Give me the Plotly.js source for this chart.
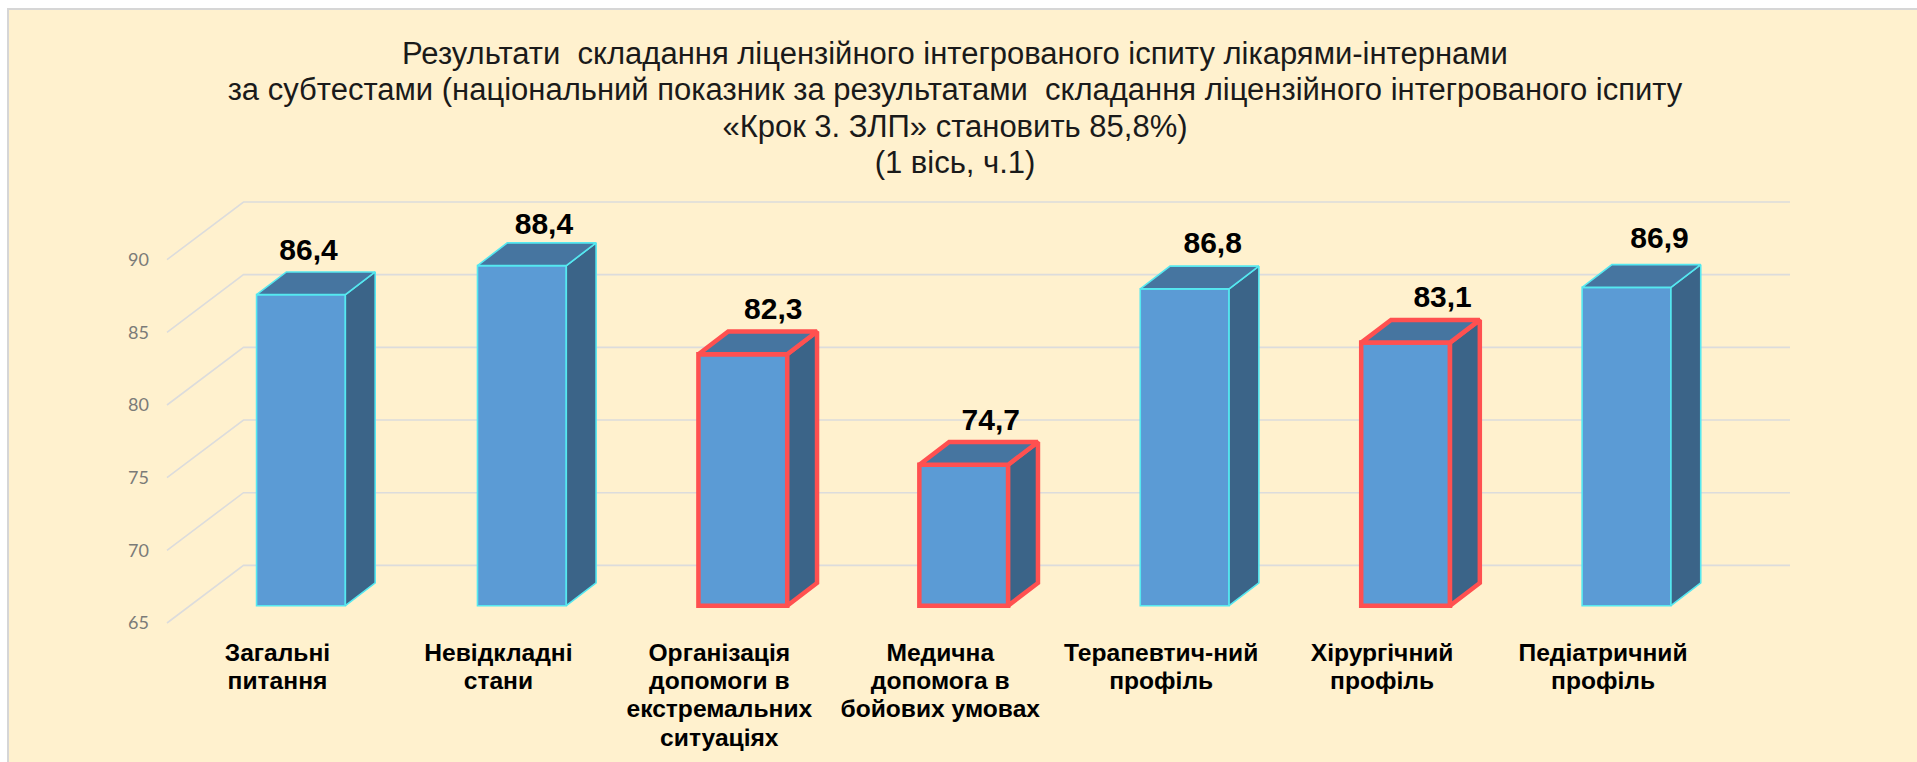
<!DOCTYPE html>
<html>
<head>
<meta charset="utf-8">
<script src="https://cdn.plot.ly/plotly-3.0.1.min.js"></script>
<style>
html,body{margin:0;padding:0;background:#fff;width:1917px;height:762px;overflow:hidden}
#bg{position:absolute;left:7px;top:8px;right:0;bottom:0;background:#FFF1CE;border-left:2px solid #D6D6D6;border-top:2px solid #D6D6D6}
#chart{position:absolute;left:0;top:0;width:1917px;height:762px}
</style>
</head>
<body>
<div id="bg"></div>
<div id="chart"></div>
<script>
// ---- data ----
const categories = ["Загальні<br>питання","Невідкладні<br>стани","Організація<br>допомоги в<br>екстремальних<br>ситуаціях","Медична<br>допомога в<br>бойових умовах","Терапевтич-ний<br>профіль","Хірургічний<br>профіль","Педіатричний<br>профіль"];
const values = [86.4, 88.4, 82.3, 74.7, 86.8, 83.1, 86.9];
const valueLabels = ["86,4","88,4","82,3","74,7","86,8","83,1","86,9"];
const flagged = [false,false,true,true,false,true,false];
const yTicks = [65,70,75,80,85,90];
const labelShiftPx = [7.6,22,30.5,27,28,37,33];
const labelLiftPx = [19.5,16.8,20.5,19.5,20.5,20.5,24.2];

// ---- geometry (axis units) ----
const pxX = 220.9, pxY = 14.52;
const wallX = 76.5/pxX, wallY = 57.6/pxY;
const frontX = 23.5/pxX, frontY = 17.3/pxY;
const depthX = 29.8/pxX, depthY = 22.7/pxY;
const barW = 88.8/pxX;
const pad = 3;
const yMin = 65, yTop = 90;

const RED='#FF5050', CYAN='#55E8F0';
const lineCol = flagged.map(f=>f?RED:CYAN);
const lineW = flagged.map(f=>f?4.5:1.6);
const xs = categories.map((_,i)=>i);

const traces = [];
// front faces
traces.push({type:'bar', x:xs.map(i=>i+frontX), y:values.map(v=>v-yMin), base:values.map(()=>yMin+frontY),
  width:barW, marker:{color:'#5B9BD5', line:{color:lineCol, width:lineW}}, hoverinfo:'skip', showlegend:false});
// side and top faces
values.forEach((v,i)=>{
  const xl=i+frontX-barW/2, xr=i+frontX+barW/2, b=yMin+frontY, t=v+frontY;
  traces.push({type:'scatter',mode:'lines',x:[xr,xr+depthX,xr+depthX,xr,xr],y:[b,b+depthY,t+depthY,t,b],
    fill:'toself',fillcolor:'#3B6488',line:{color:lineCol[i],width:lineW[i]},hoverinfo:'skip',showlegend:false});
  traces.push({type:'scatter',mode:'lines',x:[xl,xl+depthX,xr+depthX,xr,xl],y:[t,t+depthY,t+depthY,t,t],
    fill:'toself',fillcolor:'#4675A0',line:{color:lineCol[i],width:lineW[i]},hoverinfo:'skip',showlegend:false});
});
// value labels
traces.push({type:'scatter',mode:'text',
  x:xs.map(i=>i+frontX+labelShiftPx[i]/pxX),
  y:values.map((v,i)=>v+frontY+depthY+labelLiftPx[i]/pxY),
  text:valueLabels,textposition:'middle center',
  textfont:{family:'"Liberation Sans",Arial,sans-serif',size:30,color:'#000',weight:700},
  cliponaxis:false,hoverinfo:'skip',showlegend:false});

// gridlines: diagonal on the floor side, then across the back wall
const gridShapes = yTicks.map(t=>({type:'path',layer:'below',xref:'x',yref:'y',
  path:`M ${-0.5} ${t} L ${-0.5+wallX} ${t+wallY} L ${6.5+wallX} ${t+wallY}`,
  line:{color:'#DCDCDC',width:1.6}, fillcolor:'rgba(0,0,0,0)'}));

const layout = {
  width:1917,height:762,
  paper_bgcolor:'rgba(0,0,0,0)',plot_bgcolor:'rgba(0,0,0,0)',
  margin:{l:167-pad,r:1917-(167+7*pxX+wallX*pxX)-pad,t:202-pad,b:762-623-pad,pad:0,autoexpand:false},
  showlegend:false,
  title:{text:"Результати  складання ліцензійного інтегрованого іспиту лікарями-інтернами<br>за субтестами (національний показник за результатами  складання ліцензійного інтегрованого іспиту<br>«Крок 3. ЗЛП» становить 85,8%)<br>(1 вісь, ч.1)",
    x:955/1917,xanchor:'center',xref:'container',y:1-64/762,yanchor:'top',yref:'container',
    font:{family:'"Liberation Sans",Arial,sans-serif',size:31,color:'#1A1A1A'}},
  xaxis:{range:[-0.5-pad/pxX,6.5+wallX+pad/pxX],tickmode:'array',tickvals:xs,ticktext:categories,tickangle:0,
    showgrid:false,zeroline:false,showline:false,ticks:'',ticklabelstandoff:9,
    tickfont:{family:'"Liberation Sans",Arial,sans-serif',size:24.6,color:'#000',weight:700}},
  yaxis:{range:[yMin-pad/pxY,yTop+wallY+pad/pxY],tickmode:'array',tickvals:yTicks,ticktext:yTicks.map(String),
    showgrid:false,zeroline:false,showline:false,ticks:'',ticklabelstandoff:14,
    tickfont:{family:'Lato,sans-serif',size:18,color:'#7B7B78'}},
  bargap:0,shapes:gridShapes
};
// Plotly's multi-line spacing is fixed at 1.3em; the reference sets these lines tighter.
function tighten(selector, factor){
  document.querySelectorAll(selector).forEach(el=>{
    const dy=parseFloat(el.getAttribute('dy'));
    if(!isNaN(dy)) el.setAttribute('dy',(dy*factor)+'em');
  });
}
Plotly.newPlot('chart',traces,layout,{staticPlot:true,displayModeBar:false}).then(()=>{
  tighten('.gtitle tspan.line',0.9);
  tighten('.xtick tspan.line',0.885);
});
</script>
</body>
</html>
